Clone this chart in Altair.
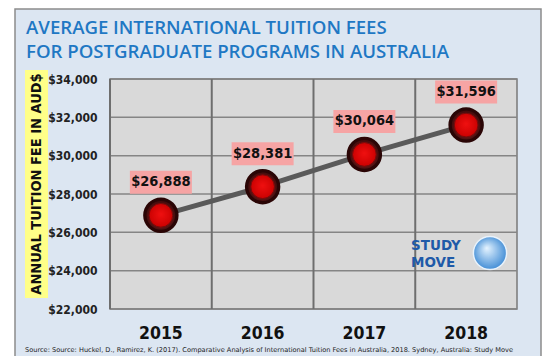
import altair as alt
import pandas as pd

# ---- data ----
years = ["2015", "2016", "2017", "2018"]
fees = [26888, 28381, 30064, 31596]
fee_labels = ["$26,888", "$28,381", "$30,064", "$31,596"]
y_ticks = [22000, 24000, 26000, 28000, 30000, 32000, 34000]
title_lines = ["AVERAGE INTERNATIONAL TUITION FEES",
               "FOR POSTGRADUATE PROGRAMS IN AUSTRALIA"]
y_title = "ANNUAL TUITION FEE IN AUD$"
logo_lines = ["STUDY", "MOVE"]
source_text = ("Source: Source: Huckel, D., Ramirez, K. (2017). Comparative Analysis of "
               "International Tuition Fees in Australia, 2018. Sydney, Australia: Study Move")

W, H = 407, 230
COND = "DejaVu Sans Condensed, sans-serif"

df = pd.DataFrame({"year": years, "fee": fees, "label": fee_labels})
ticks_df = pd.DataFrame({"tick": y_ticks})
one = alt.Data(values=[{"k": 1}])

x_scale = alt.Scale(type="band", paddingInner=0, paddingOuter=0)
y_scale = alt.Scale(domain=[22000, 34000], nice=False, zero=False)

x_axis = alt.Axis(title=None, grid=False, ticks=False, domain=False, labelAngle=0,
                  labelFont=COND, labelFontSize=17.5, labelFontWeight="bold",
                  labelColor="#111111", labelPadding=15, zindex=1)
y_axis = alt.Axis(title=None, values=y_ticks, format="$,d", grid=False, ticks=False,
                  domain=False, labelFont=COND, labelFontSize=12, labelFontWeight="bold",
                  labelColor="#222222", labelPadding=13, zindex=1)

# ---- decorations ----
outer_box = alt.Chart(one).mark_rect(fill="#dce6f2", stroke="#8c8c8c", strokeWidth=1.5).encode(
    x=alt.value(-95), x2=alt.value(431), y=alt.value(-70), y2=alt.value(279))

title1 = alt.Chart(one).mark_text(align="left", baseline="alphabetic", font="Open Sans",
                                  fontWeight=600, fontSize=18.6, color="#1f78c4",
                                  text=title_lines[0]).encode(x=alt.value(-84), y=alt.value(-45))
title2 = alt.Chart(one).mark_text(align="left", baseline="alphabetic", font="Open Sans",
                                  fontWeight=600, fontSize=18.6, color="#1f78c4",
                                  text=title_lines[1]).encode(x=alt.value(-84), y=alt.value(-21))

yellow = alt.Chart(one).mark_rect(fill="#ffff88").encode(
    x=alt.value(-85), x2=alt.value(-62), y=alt.value(-9), y2=alt.value(219))
ytitle = alt.Chart(one).mark_text(angle=270, align="center", baseline="middle", font=COND,
                                  fontWeight="bold", fontSize=14.5, color="#111111",
                                  text=y_title).encode(x=alt.value(-73.5), y=alt.value(105))

source = alt.Chart(one).mark_text(align="left", baseline="alphabetic", font="DejaVu Sans",
                                  fontSize=6.6, color="#222222",
                                  text=source_text).encode(x=alt.value(-85), y=alt.value(273))

plot_bg = alt.Chart(one).mark_rect(fill="#d9d9d9", stroke="#7a7a7a", strokeWidth=1.5).encode(
    x=alt.value(0), x2=alt.value(W), y=alt.value(0), y2=alt.value(H))

hgrid = alt.Chart(ticks_df).mark_rule(color="#858585", strokeWidth=1.5).encode(
    y=alt.Y("tick:Q", scale=y_scale, axis=y_axis))
vgrid = alt.Chart(df).mark_rule(color="#6e6e6e", strokeWidth=2).encode(
    x=alt.X("year:N", bandPosition=0, scale=x_scale, axis=x_axis))

# logo
def logo_text(txt, y):
    return alt.Chart(one).mark_text(align="left", baseline="alphabetic", font="DejaVu Sans",
                                    fontWeight="bold", fontSize=13.5, color="#1f5aa8",
                                    text=txt).encode(x=alt.value(301), y=alt.value(y))
study = logo_text(logo_lines[0], 171)
move = logo_text(logo_lines[1], 188)
globe = alt.Chart(one).mark_point(
    shape="circle", filled=True, opacity=1, size=1100, stroke="#e8f2fb", strokeWidth=1.5,
    fill=alt.RadialGradient(gradient="radial", x1=0.4, y1=0.35, x2=0.5, y2=0.5, r1=0, r2=0.6,
                            stops=[alt.GradientStop(offset=0, color="#e6f4ff"),
                                   alt.GradientStop(offset=1, color="#2b7fd0")])
).encode(x=alt.value(380), y=alt.value(174))

# ---- data marks ----
base = alt.Chart(df)
enc = dict(x=alt.X("year:N", scale=x_scale, axis=x_axis),
           y=alt.Y("fee:Q", scale=y_scale, axis=y_axis))

line = base.mark_line(color="#5a5a5a", strokeWidth=5).encode(**enc)

outer_pt = base.mark_point(shape="circle", filled=True, opacity=1, size=1257,
                           fill="#2a0505").encode(**enc)
mid_pt = base.mark_point(shape="circle", filled=True, opacity=1, size=820,
                         fill=alt.RadialGradient(gradient="radial", x1=0.5, y1=0.7, x2=0.5, y2=0.5,
                                                 r1=0, r2=0.6,
                                                 stops=[alt.GradientStop(offset=0, color="#8a2a2a"),
                                                        alt.GradientStop(offset=1, color="#3a0808")])
                         ).encode(**enc)
inner_pt = base.mark_point(shape="circle", filled=True, opacity=1, size=560,
                           fill=alt.RadialGradient(gradient="radial", x1=0.5, y1=0.45, x2=0.5, y2=0.5,
                                                   r1=0, r2=0.55,
                                                   stops=[alt.GradientStop(offset=0, color="#f01010"),
                                                          alt.GradientStop(offset=1, color="#c80000")]),
                           stroke="#7a0a0a", strokeWidth=1).encode(**enc)

label_bg = base.mark_point(shape="M-1,-0.37L1,-0.37L1,0.37L-1,0.37Z", filled=True, opacity=1,
                           size=3844, fill="#f6a4a4", yOffset=-33).encode(**enc)
label_txt = base.mark_text(dy=-33, font=COND, fontSize=14.5, fontWeight="bold",
                           color="#111111").encode(text="label:N", **enc)

chart = alt.layer(
    outer_box, title1, title2, yellow, ytitle, source, plot_bg, hgrid, vgrid,
    study, move, globe,
    line, outer_pt, mid_pt, inner_pt, label_bg, label_txt
).properties(
    width=W, height=H,
    padding={"left": 102, "top": 71, "right": 29, "bottom": 47},
    autosize=alt.AutoSizeParams(type="none"),
    background="white"
).configure_view(stroke=None)

chart.save("out.html", embed_options={"renderer": "svg", "actions": False})
